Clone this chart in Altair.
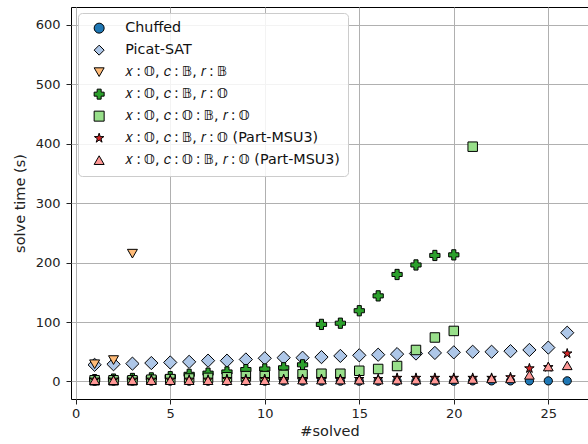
import altair as alt
import pandas as pd

T = "\u2009"
series_names = [
    "Chuffed",
    "Picat-SAT",
    f"𝑥{T}:{T}𝕆, 𝑐{T}:{T}𝔹, 𝑟{T}:{T}𝔹",
    f"𝑥{T}:{T}𝕆, 𝑐{T}:{T}𝔹, 𝑟{T}:{T}𝕆",
    f"𝑥{T}:{T}𝕆, 𝑐{T}:{T}𝕆{T}:{T}𝔹, 𝑟{T}:{T}𝕆",
    f"𝑥{T}:{T}𝕆, 𝑐{T}:{T}𝔹, 𝑟{T}:{T}𝕆 (Part-MSU3)",
    f"𝑥{T}:{T}𝕆, 𝑐{T}:{T}𝕆{T}:{T}𝔹, 𝑟{T}:{T}𝕆 (Part-MSU3)",
]

chuffed = [0.5, 0.5, 0.5, 0.5, 0.5, 0.5, 0.5, 0.5, 0.5, 0.5, 0.5, 0.5, 0.5,
           0.5, 0.5, 0.5, 0.5, 0.5, 0.5, 0.5, 1, 1, 1, 1, 1, 1]
picat = [28, 29, 30, 31, 32, 33, 35, 35, 37, 39, 40, 40, 41, 43, 44, 45, 46,
         47, 48, 49, 50, 50, 51, 53, 57, 82]
obb = [29, 36, 215]
obo = [3, 4, 5, 6, 8, 12, 14, 16, 20, 21, 23, 28, 96, 98, 119, 144, 180,
       196, 212, 213]
oobo = [2, 2, 2, 3, 4, 5, 6, 7, 9, 9, 11, 12, 13, 13, 18, 21, 26, 53, 74,
        85, 395]
obo_msu = [3, 3, 3, 3, 3, 3, 3, 4, 4, 4, 4, 4, 4, 4, 4, 4, 6, 6, 6, 6, 6,
           6, 7, 22, 24, 47]
oobo_msu = [2, 2, 2, 2, 2, 2, 2, 2, 2, 2, 3, 3, 3, 3, 3, 3, 3, 3, 3, 4, 4,
            5, 5, 11, 25, 27]

all_series = [chuffed, picat, obb, obo, oobo, obo_msu, oobo_msu]
colors = ["#1f77b4", "#aec7e8", "#ffbb78", "#2ca02c", "#98df8a", "#d62728", "#ff9896"]
star_path = ("M0,-1L0.2245,-0.309L0.9511,-0.309L0.3633,0.118L0.5878,0.809L0,0.382"
             "L-0.5878,0.809L-0.3633,0.118L-0.9511,-0.309L-0.2245,-0.309Z")
shapes = ["circle", "diamond", "triangle-down", "cross", "square", star_path, "triangle-up"]
sizes = [68, 175, 100, 105, 90, 100, 95]

rows = []
for i, (name, vals) in enumerate(zip(series_names, all_series)):
    for j, v in enumerate(vals):
        rows.append({"series": name, "order": i, "solved": j + 1, "time": v})
df = pd.DataFrame(rows)

font = "DejaVu Sans"

x_enc = alt.X("solved:Q",
              scale=alt.Scale(domain=[-0.25, 27.1], nice=False, zero=False),
              axis=alt.Axis(values=[0, 5, 10, 15, 20, 25], title="#solved"))
y_enc = alt.Y("time:Q",
              scale=alt.Scale(domain=[-29.5, 630], nice=False, zero=False),
              axis=alt.Axis(values=[0, 100, 200, 300, 400, 500, 600], title="solve time (s)"))
leg = alt.Legend(title=None, orient="none", legendX=7, legendY=6)
color_enc = alt.Color("series:N", scale=alt.Scale(domain=series_names, range=colors), legend=leg)
shape_enc = alt.Shape("series:N", scale=alt.Scale(domain=series_names, range=shapes), legend=leg)

layers = []
for name, s in zip(series_names, sizes):
    layers.append(
        alt.Chart(df).transform_filter(alt.datum.series == name)
        .mark_point(filled=True, opacity=1, stroke="black", strokeWidth=1, size=s)
        .encode(x=x_enc, y=y_enc, color=color_enc, shape=shape_enc)
    )

chart = alt.layer(*layers).properties(
    width=517, height=392,
    autosize=alt.AutoSizeParams(type="none"),
    padding={"left": 71, "top": 7, "right": 0, "bottom": 45},
).configure_view(
    stroke="black", strokeWidth=1
).configure_axis(
    labelFont=font, titleFont=font, labelFontSize=13, titleFontSize=14.5,
    labelColor="#222", titleColor="#222", titleFontWeight="normal",
    domain=False, tickColor="#222", tickSize=5, tickWidth=1,
    gridColor="#b0b0b0", gridWidth=1,
).configure_axisY(
    titlePadding=8, labelPadding=6,
).configure_axisX(
    titlePadding=4, labelPadding=3,
).configure_legend(
    labelFont=font, labelFontSize=14.3, labelColor="#111", labelLimit=400,
    fillColor="rgba(255,255,255,0.85)", strokeColor="#cccccc", cornerRadius=4,
    padding=8, rowPadding=7, symbolStrokeColor="black", symbolStrokeWidth=1,
    labelOffset=19, symbolOffset=6, symbolSize=100,
)

chart.save("out.html", embed_options={"renderer": "svg", "actions": False})
